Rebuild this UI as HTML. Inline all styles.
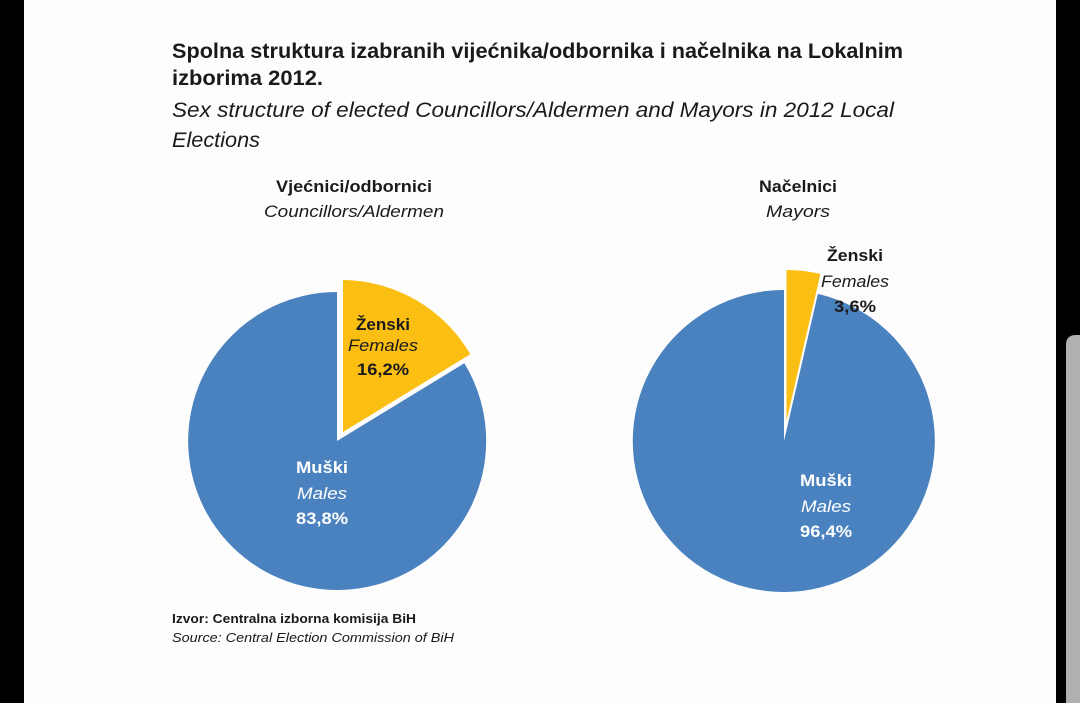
<!DOCTYPE html>
<html><head><meta charset="utf-8"><style>
html,body{margin:0;padding:0;background:#000;}
svg{display:block}
text{font-family:"Liberation Sans",sans-serif;fill:#1a1a1a}
</style></head><body>
<svg width="1080" height="703" viewBox="0 0 1080 703">
<rect x="0" y="0" width="1080" height="703" fill="#000"/>
<rect x="24" y="0" width="1032" height="703" fill="#fdfdfd"/>
<path d="M1066 703 V345 Q1066 335 1076 335 H1080 V703 Z" fill="#b0b0b0"/>
<text x="172" y="58" font-size="21" font-weight="bold" textLength="731" lengthAdjust="spacingAndGlyphs">Spolna struktura izabranih vijećnika/odbornika i načelnika na Lokalnim</text>
<text x="172" y="85" font-size="21" font-weight="bold" textLength="151" lengthAdjust="spacingAndGlyphs">izborima 2012.</text>
<text x="172" y="117" font-size="21" font-style="italic" textLength="722" lengthAdjust="spacingAndGlyphs">Sex structure of elected Councillors/Aldermen and Mayors in 2012 Local</text>
<text x="172" y="147" font-size="21" font-style="italic" textLength="88" lengthAdjust="spacingAndGlyphs">Elections</text>
<text x="354" y="192" font-size="17" font-weight="bold" text-anchor="middle" textLength="156" lengthAdjust="spacingAndGlyphs">Vjećnici/odbornici</text>
<text x="354" y="217" font-size="17" font-style="italic" text-anchor="middle" textLength="180" lengthAdjust="spacingAndGlyphs">Councillors/Aldermen</text>
<text x="798" y="192" font-size="17" font-weight="bold" text-anchor="middle" textLength="78" lengthAdjust="spacingAndGlyphs">Načelnici</text>
<text x="798" y="217" font-size="17" font-style="italic" text-anchor="middle" textLength="64" lengthAdjust="spacingAndGlyphs">Mayors</text>
<!-- left pie -->
<path d="M337 441 L464.3 363.3 A149 149 0 1 1 337 292 Z" fill="#4a81bf"/>
<path d="M343 432 L343 280 A149 149 0 0 1 470.3 354.3 Z" fill="#fbbf14"/>
<text x="383" y="330" font-size="17" font-weight="bold" text-anchor="middle" textLength="54" lengthAdjust="spacingAndGlyphs">Ženski</text>
<text x="383" y="351" font-size="17" font-style="italic" text-anchor="middle" textLength="70" lengthAdjust="spacingAndGlyphs">Females</text>
<text x="383" y="375" font-size="17" font-weight="bold" text-anchor="middle" textLength="52" lengthAdjust="spacingAndGlyphs">16,2%</text>
<text x="322" y="473" font-size="17" font-weight="bold" fill="#fff" style="fill:#fff" text-anchor="middle" textLength="52" lengthAdjust="spacingAndGlyphs">Muški</text>
<text x="322" y="499" font-size="17" font-style="italic" style="fill:#fff" text-anchor="middle" textLength="50" lengthAdjust="spacingAndGlyphs">Males</text>
<text x="322" y="524" font-size="17" font-weight="bold" style="fill:#fff" text-anchor="middle" textLength="52" lengthAdjust="spacingAndGlyphs">83,8%</text>
<!-- right pie -->
<path d="M784 441 L817.9 293.9 A151 151 0 1 1 784 290 Z" fill="#4a81bf"/>
<path d="M786.5 421 L786.5 270 A151 151 0 0 1 820.4 273.9 Z" fill="#fbbf14"/>
<text x="855" y="261" font-size="17" font-weight="bold" text-anchor="middle" textLength="56" lengthAdjust="spacingAndGlyphs">Ženski</text>
<text x="855" y="287" font-size="17" font-style="italic" text-anchor="middle" textLength="68" lengthAdjust="spacingAndGlyphs">Females</text>
<text x="855" y="312" font-size="17" font-weight="bold" text-anchor="middle" textLength="42" lengthAdjust="spacingAndGlyphs">3,6%</text>
<text x="826" y="486" font-size="17" font-weight="bold" style="fill:#fff" text-anchor="middle" textLength="52" lengthAdjust="spacingAndGlyphs">Muški</text>
<text x="826" y="512" font-size="17" font-style="italic" style="fill:#fff" text-anchor="middle" textLength="50" lengthAdjust="spacingAndGlyphs">Males</text>
<text x="826" y="537" font-size="17" font-weight="bold" style="fill:#fff" text-anchor="middle" textLength="52" lengthAdjust="spacingAndGlyphs">96,4%</text>
<text x="172" y="623" font-size="13" font-weight="bold" textLength="244" lengthAdjust="spacingAndGlyphs">Izvor: Centralna izborna komisija BiH</text>
<text x="172" y="642" font-size="13" font-style="italic" textLength="282" lengthAdjust="spacingAndGlyphs">Source: Central Election Commission of BiH</text>
</svg>
</body></html>
